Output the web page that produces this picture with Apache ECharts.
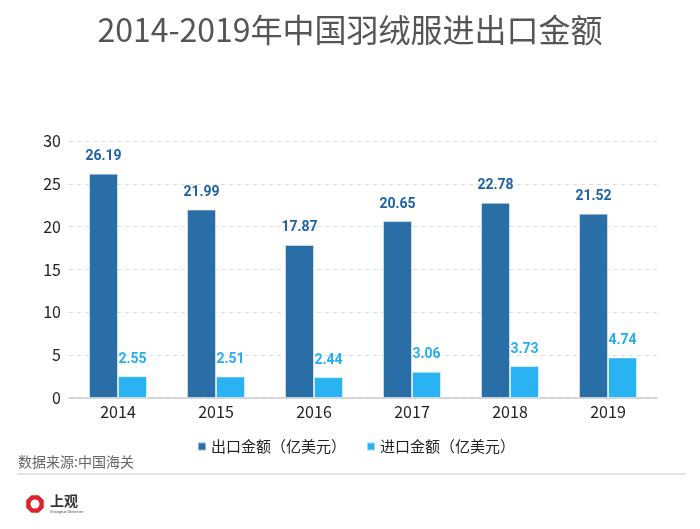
<!DOCTYPE html>
<html>
<head>
<meta charset="utf-8">
<script src="https://cdn.jsdelivr.net/npm/echarts@6/dist/echarts.min.js"></script>
<style>
html,body{margin:0;padding:0;background:#fff;}
#main{width:700px;height:529px;}
</style>
</head>
<body>
<div id="main"></div>
<script>
var categories = ['2014', '2015', '2016', '2017', '2018', '2019'];
var exportValues = [26.19, 21.99, 17.87, 20.65, 22.78, 21.52];
var importValues = [2.55, 2.51, 2.44, 3.06, 3.73, 4.74];
var seriesNames = ['出口金额（亿美元）', '进口金额（亿美元）'];
var titleText = '2014-2019年中国羽绒服进出口金额';
var sourceText = '数据来源:中国海关';

var FONT = '"Noto Sans CJK SC", "Noto Sans", sans-serif';
var chart = echarts.init(document.getElementById('main'));
chart.setOption({
  backgroundColor: '#fff',
  animation: false,
  textStyle: { fontFamily: FONT },
  title: {
    text: titleText,
    left: 'center',
    top: 9,
    textStyle: { fontSize: 32, fontWeight: 'normal', color: '#555', fontFamily: FONT }
  },
  legend: {
    data: seriesNames,
    bottom: 70,
    left: 192,
    icon: 'rect',
    itemWidth: 8,
    itemHeight: 8,
    itemGap: 20,
    textStyle: { fontSize: 15, color: '#222', fontFamily: FONT }
  },
  grid: { left: 69, right: 43, top: 141, bottom: 131 },
  xAxis: {
    type: 'category',
    data: categories,
    axisTick: { show: false },
    axisLine: { lineStyle: { color: '#ccc', width: 1.5 } },
    axisLabel: { fontSize: 16, color: '#222', margin: 6, fontFamily: FONT }
  },
  yAxis: {
    type: 'value',
    min: 0,
    max: 30,
    interval: 5,
    axisLine: { show: false },
    axisTick: { show: false },
    axisLabel: { fontSize: 16, color: '#222', margin: 8, fontFamily: FONT },
    splitLine: { lineStyle: { color: '#ddd', type: [4, 4] } }
  },
  series: [
    {
      name: seriesNames[0],
      type: 'bar',
      data: exportValues,
      barWidth: 29,
      barGap: '0%',
      itemStyle: { color: '#2a6ea8', borderColor: 'rgba(255,255,255,0.5)', borderWidth: 1 },
      label: {
        show: true, position: 'top', distance: 10,
        color: '#1d62a6', fontWeight: 'bold', fontSize: 14, fontFamily: 'Roboto, "Noto Sans", sans-serif',
        formatter: function (p) { return p.value.toFixed(2); }
      }
    },
    {
      name: seriesNames[1],
      type: 'bar',
      data: importValues,
      barWidth: 29,
      barGap: '0%',
      itemStyle: { color: '#2ab3f2', borderColor: 'rgba(255,255,255,0.5)', borderWidth: 1 },
      label: {
        show: true, position: 'top', distance: 10,
        color: '#25aef0', fontWeight: 'bold', fontSize: 14, fontFamily: 'Roboto, "Noto Sans", sans-serif',
        formatter: function (p) { return p.value.toFixed(2); }
      }
    }
  ],
  graphic: [
    {
      type: 'text', left: 18, top: 455,
      style: { text: sourceText, fontSize: 14, fill: '#666', fontFamily: FONT }
    },
    {
      type: 'line', shape: { x1: 17, y1: 474, x2: 686, y2: 474 },
      style: { stroke: '#e2e2e2', lineWidth: 2 }
    },
    {
      type: 'polygon',
      shape: { points: (function () {
        var pts = [], cx = 35, cy = 504, r = 9.5;
        for (var i = 0; i < 8; i++) {
          var a = Math.PI / 8 + i * Math.PI / 4;
          pts.push([cx + r * Math.cos(a), cy + r * Math.sin(a)]);
        }
        return pts;
      })() },
      style: { fill: '#d9252a' }
    },
    {
      type: 'circle', shape: { cx: 35, cy: 504, r: 4.5 },
      style: { fill: '#fff' }
    },
    {
      type: 'text', left: 50, top: 494,
      style: { text: '上观', fontSize: 14, fill: '#333', fontFamily: '"Noto Sans CJK SC", serif', fontWeight: 'bold' }
    },
    {
      type: 'text', left: 50, top: 510,
      style: { text: 'Shanghai Observer', fontSize: 4, fill: '#555', fontFamily: 'Roboto, sans-serif' }
    }
  ]
});
</script>
</body>
</html>
